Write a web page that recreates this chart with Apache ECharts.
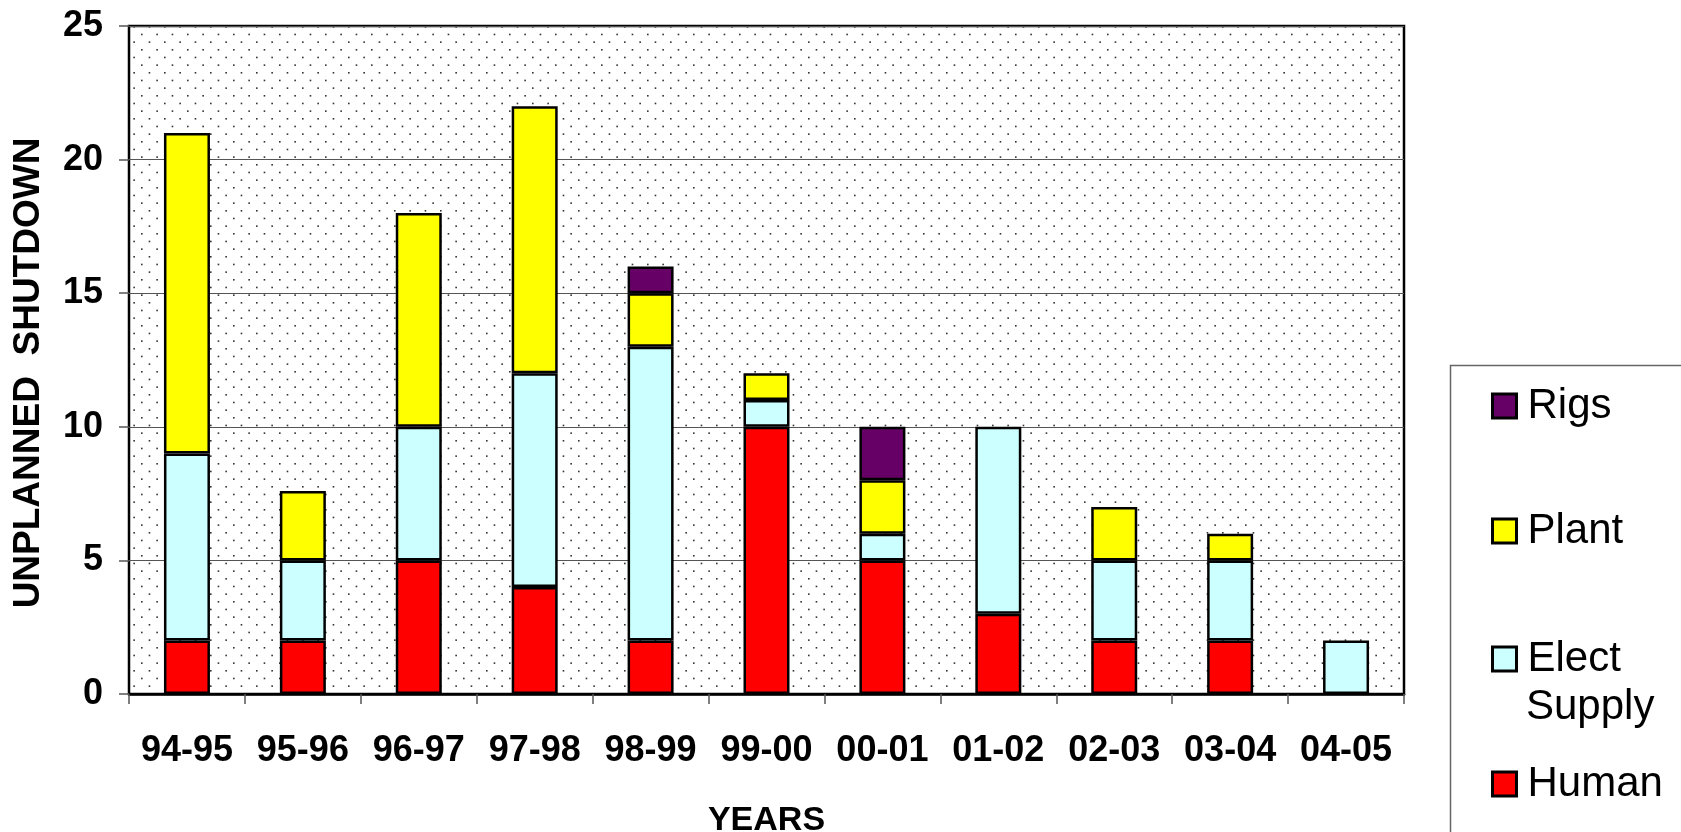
<!DOCTYPE html>
<html>
<head>
<meta charset="utf-8">
<script src="https://cdn.jsdelivr.net/npm/echarts@6/dist/echarts.min.js"></script>
<style>
html,body{margin:0;padding:0;background:#fff;}
#c{width:1681px;height:832px;}
</style>
</head>
<body>
<div id="c"></div>
<script>
const categories = ['94-95','95-96','96-97','97-98','98-99','99-00','00-01','01-02','02-03','03-04','04-05'];
const human  = [2, 2, 5, 4, 2, 10, 5, 3, 2, 2, 0];
const elect  = [7, 3, 5, 8, 11, 1, 1, 7, 3, 3, 2];
const plant  = [12, 2.6, 8, 10, 2, 1, 2, 0, 2, 1, 0];
const rigs   = [0, 0, 0, 0, 1, 0, 2, 0, 0, 0, 0];
const yTicks = [0, 5, 10, 15, 20, 25];

const FONT = '"Liberation Sans", Arial, sans-serif';

// dotted background tile
const tile = document.createElement('canvas');
tile.width = 46; tile.height = 46;
const tctx = tile.getContext('2d');
tctx.fillStyle = '#fff';
tctx.fillRect(0, 0, 46, 46);
tctx.fillStyle = '#333';
for (let j = 0; j < 6; j++) {
  for (let i = 0; i < 3; i++) {
    const x = (j % 2) * 7.667 + i * 15.333 + 3;
    const y = j * 7.667 + 3;
    tctx.fillRect(x, y, 1.6, 1.6);
  }
}

const toData = arr => arr.map(v => (v ? v : null));

function barSeries(name, arr, color) {
  return {
    name: name,
    type: 'bar',
    stack: 'total',
    barWidth: 46,
    data: toData(arr),
    itemStyle: { color: color, borderColor: '#000', borderWidth: 2.5 },
    emphasis: { disabled: true }
  };
}

function legendFor(name, centerY, label) {
  return {
    orient: 'vertical',
    left: 1486,
    top: centerY - 22,
    data: [name],
    icon: 'rect',
    itemWidth: 24,
    itemHeight: 24,
    itemStyle: { borderColor: '#000', borderWidth: 3 },
    selectedMode: false,
    formatter: () => '{a|' + label + '}',
    textStyle: {
      fontFamily: FONT,
      fontSize: 42,
      color: '#000',
      rich: { a: { fontFamily: FONT, fontSize: 42, color: '#000', padding: [0, 0, 0, 6], lineHeight: 44 } }
    }
  };
}

const chart = echarts.init(document.getElementById('c'), null, { renderer: 'canvas' });
chart.setOption({
  animation: false,
  backgroundColor: '#fff',
  grid: {
    left: 129, top: 26, width: 1275, height: 668,
    outerBoundsMode: 'none',
    containLabel: false,
    show: true,
    backgroundColor: { image: tile, repeat: 'repeat' },
    borderColor: '#000',
    borderWidth: 2.5
  },
  xAxis: {
    type: 'category',
    data: categories,
    name: 'YEARS',
    nameLocation: 'middle',
    nameGap: 110,
    nameTextStyle: { fontFamily: FONT, fontSize: 34, fontWeight: 'bold', color: '#000' },
    axisLine: { show: true, lineStyle: { color: '#000', width: 2.5 } },
    axisTick: { show: true, length: 10, lineStyle: { color: '#555', width: 1.5 } },
    axisLabel: { interval: 0, fontFamily: FONT, fontSize: 36, fontWeight: 'bold', color: '#000', margin: 39 },
    splitLine: { show: false }
  },
  yAxis: {
    type: 'value',
    min: yTicks[0],
    max: yTicks[yTicks.length - 1],
    interval: 5,
    name: 'UNPLANNED  SHUTDOWN',
    nameLocation: 'middle',
    nameGap: 82,
    nameRotate: 90,
    nameTextStyle: { fontFamily: FONT, fontSize: 37, fontWeight: 'bold', color: '#000', padding: [0, 26, 0, 0] },
    axisLine: { show: false },
    axisTick: { show: true, length: 10, lineStyle: { color: '#555', width: 1.5 } },
    axisLabel: { fontFamily: FONT, fontSize: 36, fontWeight: 'bold', color: '#000', margin: 26 },
    splitLine: { show: true, lineStyle: { color: '#555', width: 1.2 } }
  },
  legend: [
    legendFor('Rigs', 402, 'Rigs'),
    legendFor('Plant', 527, 'Plant'),
    legendFor('Elect Supply', 655, 'Elect'),
    legendFor('Human', 780, 'Human')
  ],
  graphic: [
    {
      type: 'rect',
      z: -1,
      shape: { x: 1450.5, y: 365.5, width: 400, height: 600 },
      style: { fill: '#fff', stroke: '#666', lineWidth: 1.5 }
    },
    {
      type: 'text',
      left: 1526,
      top: 686,
      style: { text: 'Supply', fontFamily: FONT, fontSize: 42, fill: '#000' }
    }
  ],
  series: [
    barSeries('Human', human, '#FF0000'),
    barSeries('Elect Supply', elect, '#CCFFFF'),
    barSeries('Plant', plant, '#FFFF00'),
    barSeries('Rigs', rigs, '#660066')
  ]
});
</script>
</body>
</html>
